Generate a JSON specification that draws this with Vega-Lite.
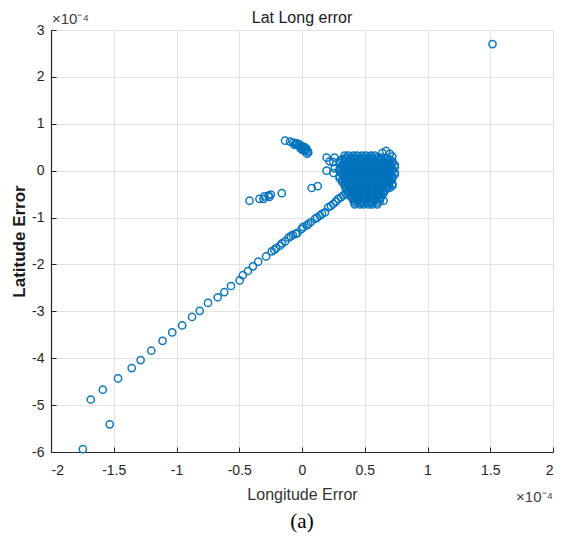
{
  "$schema": "https://vega.github.io/schema/vega-lite/v6.json",
  "autosize": "none",
  "width": 502,
  "height": 422,
  "padding": {"left": 51, "top": 30, "right": 10, "bottom": 92},
  "background": "white",
  "config": {
    "view": {"stroke": "#dcdcdc", "strokeWidth": 1},
    "font": "Liberation Sans",
    "axis": {
      "grid": true, "gridColor": "#e3e3e3", "gridWidth": 1,
      "domainColor": "#262626", "domainWidth": 1.2,
      "tickColor": "#262626", "tickSize": -5, "tickWidth": 1,
      "labelFont": "Liberation Sans", "labelFontSize": 14, "labelColor": "#262626",
      "titleFont": "Liberation Sans", "titleColor": "#262626"
    }
  },
  "datasets": {
    "pts": [
      {"x": -1.746, "y": -5.94}, {"x": -1.683, "y": -4.88}, {"x": -1.587, "y": -4.67}, {"x": -1.532, "y": -5.41},
      {"x": -1.466, "y": -4.43}, {"x": -1.357, "y": -4.21}, {"x": -1.286, "y": -4.04}, {"x": -1.201, "y": -3.84},
      {"x": -1.111, "y": -3.63}, {"x": -1.034, "y": -3.45}, {"x": -0.955, "y": -3.30}, {"x": -0.876, "y": -3.12},
      {"x": -0.815, "y": -2.99}, {"x": -0.749, "y": -2.82}, {"x": -0.672, "y": -2.70}, {"x": -0.619, "y": -2.59},
      {"x": -0.566, "y": -2.46}, {"x": -0.497, "y": -2.34}, {"x": -0.471, "y": -2.23}, {"x": -0.431, "y": -2.14},
      {"x": -0.391, "y": -2.04}, {"x": -0.349, "y": -1.94}, {"x": -0.286, "y": -1.83}, {"x": -0.241, "y": -1.72},
      {"x": -0.206, "y": -1.65}, {"x": -0.175, "y": -1.60}, {"x": -0.135, "y": -1.51}, {"x": -0.108, "y": -1.43},
      {"x": -0.074, "y": -1.37}, {"x": -0.037, "y": -1.33}, {"x": -0.003, "y": -1.24}, {"x": 0.037, "y": -1.17},
      {"x": 0.069, "y": -1.10}, {"x": 0.103, "y": -1.03}, {"x": 0.143, "y": -0.96}, {"x": 0.183, "y": -0.89},
      {"x": 0.209, "y": -0.78}, {"x": 0.249, "y": -0.71}, {"x": 0.288, "y": -0.60}, {"x": 0.328, "y": -0.53},
      {"x": 0.01, "y": -1.20}, {"x": 0.05, "y": -1.14}, {"x": 0.12, "y": -1.00}, {"x": 0.16, "y": -0.92},
      {"x": 0.23, "y": -0.75}, {"x": 0.27, "y": -0.66}, {"x": 0.31, "y": -0.57}, {"x": 0.35, "y": -0.50},
      {"x": -0.22, "y": -1.69}, {"x": -0.16, "y": -1.55}, {"x": -0.05, "y": -1.35}, {"x": -0.09, "y": -1.40},
      {"x": -0.418, "y": -0.64}, {"x": -0.339, "y": -0.60}, {"x": -0.307, "y": -0.60}, {"x": -0.30, "y": -0.55},
      {"x": -0.267, "y": -0.53}, {"x": -0.249, "y": -0.51}, {"x": -0.26, "y": -0.56}, {"x": -0.161, "y": -0.48},
      {"x": 0.077, "y": -0.37}, {"x": 0.125, "y": -0.33},
      {"x": -0.135, "y": 0.64}, {"x": -0.095, "y": 0.62}, {"x": -0.069, "y": 0.60}, {"x": -0.05, "y": 0.57},
      {"x": -0.03, "y": 0.54}, {"x": -0.01, "y": 0.51}, {"x": 0.01, "y": 0.48}, {"x": 0.03, "y": 0.44},
      {"x": 0.05, "y": 0.39}, {"x": 0.04, "y": 0.36}, {"x": -0.06, "y": 0.55}, {"x": 0.0, "y": 0.45},
      {"x": -0.04, "y": 0.58}, {"x": -0.02, "y": 0.56}, {"x": 0.0, "y": 0.52}, {"x": 0.02, "y": 0.50},
      {"x": 0.035, "y": 0.47}, {"x": 0.045, "y": 0.42}, {"x": 0.02, "y": 0.42}, {"x": -0.01, "y": 0.47},
      {"x": 1.518, "y": 2.70},
      {"x": 0.196, "y": 0.28}, {"x": 0.196, "y": 0.0}, {"x": 0.25, "y": 0.18}, {"x": 0.22, "y": 0.20},
      {"x": 0.26, "y": 0.28}, {"x": 0.26, "y": 0.05}, {"x": 0.25, "y": -0.05},
      {"x": 0.67, "y": 0.42}, {"x": 0.64, "y": 0.38}, {"x": 0.70, "y": 0.36}, {"x": 0.72, "y": 0.30},
      {"x": 0.34, "y": 0.32}, {"x": 0.37, "y": 0.32}, {"x": 0.41, "y": 0.32}, {"x": 0.44, "y": 0.32}, {"x": 0.48, "y": 0.32}, {"x": 0.51, "y": 0.32}, {"x": 0.55, "y": 0.32}, {"x": 0.58, "y": 0.32},
      {"x": 0.35, "y": 0.28}, {"x": 0.39, "y": 0.28}, {"x": 0.42, "y": 0.28}, {"x": 0.46, "y": 0.28}, {"x": 0.49, "y": 0.28}, {"x": 0.53, "y": 0.28}, {"x": 0.56, "y": 0.28}, {"x": 0.60, "y": 0.28}, {"x": 0.63, "y": 0.28},
      {"x": 0.32, "y": 0.24}, {"x": 0.35, "y": 0.24}, {"x": 0.39, "y": 0.24}, {"x": 0.42, "y": 0.24}, {"x": 0.46, "y": 0.24}, {"x": 0.49, "y": 0.24}, {"x": 0.53, "y": 0.24}, {"x": 0.56, "y": 0.24}, {"x": 0.60, "y": 0.24}, {"x": 0.63, "y": 0.24}, {"x": 0.67, "y": 0.24}, {"x": 0.70, "y": 0.24},
      {"x": 0.30, "y": 0.20}, {"x": 0.34, "y": 0.20}, {"x": 0.37, "y": 0.20}, {"x": 0.41, "y": 0.20}, {"x": 0.44, "y": 0.20}, {"x": 0.48, "y": 0.20}, {"x": 0.51, "y": 0.20}, {"x": 0.55, "y": 0.20}, {"x": 0.58, "y": 0.20}, {"x": 0.62, "y": 0.20}, {"x": 0.65, "y": 0.20}, {"x": 0.69, "y": 0.20}, {"x": 0.72, "y": 0.20},
      {"x": 0.30, "y": 0.16}, {"x": 0.34, "y": 0.16}, {"x": 0.37, "y": 0.16}, {"x": 0.41, "y": 0.16}, {"x": 0.44, "y": 0.16}, {"x": 0.48, "y": 0.16}, {"x": 0.51, "y": 0.16}, {"x": 0.55, "y": 0.16}, {"x": 0.58, "y": 0.16}, {"x": 0.62, "y": 0.16}, {"x": 0.65, "y": 0.16}, {"x": 0.69, "y": 0.16}, {"x": 0.72, "y": 0.16},
      {"x": 0.32, "y": 0.12}, {"x": 0.35, "y": 0.12}, {"x": 0.39, "y": 0.12}, {"x": 0.42, "y": 0.12}, {"x": 0.46, "y": 0.12}, {"x": 0.49, "y": 0.12}, {"x": 0.53, "y": 0.12}, {"x": 0.56, "y": 0.12}, {"x": 0.60, "y": 0.12}, {"x": 0.63, "y": 0.12}, {"x": 0.67, "y": 0.12}, {"x": 0.70, "y": 0.12}, {"x": 0.74, "y": 0.12},
      {"x": 0.32, "y": 0.08}, {"x": 0.35, "y": 0.08}, {"x": 0.39, "y": 0.08}, {"x": 0.42, "y": 0.08}, {"x": 0.46, "y": 0.08}, {"x": 0.49, "y": 0.08}, {"x": 0.53, "y": 0.08}, {"x": 0.56, "y": 0.08}, {"x": 0.60, "y": 0.08}, {"x": 0.63, "y": 0.08}, {"x": 0.67, "y": 0.08}, {"x": 0.70, "y": 0.08}, {"x": 0.74, "y": 0.08},
      {"x": 0.30, "y": 0.04}, {"x": 0.34, "y": 0.04}, {"x": 0.37, "y": 0.04}, {"x": 0.41, "y": 0.04}, {"x": 0.44, "y": 0.04}, {"x": 0.48, "y": 0.04}, {"x": 0.51, "y": 0.04}, {"x": 0.55, "y": 0.04}, {"x": 0.58, "y": 0.04}, {"x": 0.62, "y": 0.04}, {"x": 0.65, "y": 0.04}, {"x": 0.69, "y": 0.04}, {"x": 0.72, "y": 0.04},
      {"x": 0.30, "y": 0.0}, {"x": 0.34, "y": 0.0}, {"x": 0.37, "y": 0.0}, {"x": 0.41, "y": 0.0}, {"x": 0.44, "y": 0.0}, {"x": 0.48, "y": 0.0}, {"x": 0.51, "y": 0.0}, {"x": 0.55, "y": 0.0}, {"x": 0.58, "y": 0.0}, {"x": 0.62, "y": 0.0}, {"x": 0.65, "y": 0.0}, {"x": 0.69, "y": 0.0}, {"x": 0.72, "y": 0.0},
      {"x": 0.32, "y": -0.04}, {"x": 0.35, "y": -0.04}, {"x": 0.39, "y": -0.04}, {"x": 0.42, "y": -0.04}, {"x": 0.46, "y": -0.04}, {"x": 0.49, "y": -0.04}, {"x": 0.53, "y": -0.04}, {"x": 0.56, "y": -0.04}, {"x": 0.60, "y": -0.04}, {"x": 0.63, "y": -0.04}, {"x": 0.67, "y": -0.04}, {"x": 0.70, "y": -0.04}, {"x": 0.74, "y": -0.04},
      {"x": 0.32, "y": -0.08}, {"x": 0.35, "y": -0.08}, {"x": 0.39, "y": -0.08}, {"x": 0.42, "y": -0.08}, {"x": 0.46, "y": -0.08}, {"x": 0.49, "y": -0.08}, {"x": 0.53, "y": -0.08}, {"x": 0.56, "y": -0.08}, {"x": 0.60, "y": -0.08}, {"x": 0.63, "y": -0.08}, {"x": 0.67, "y": -0.08}, {"x": 0.70, "y": -0.08}, {"x": 0.74, "y": -0.08},
      {"x": 0.30, "y": -0.12}, {"x": 0.34, "y": -0.12}, {"x": 0.37, "y": -0.12}, {"x": 0.41, "y": -0.12}, {"x": 0.44, "y": -0.12}, {"x": 0.48, "y": -0.12}, {"x": 0.51, "y": -0.12}, {"x": 0.55, "y": -0.12}, {"x": 0.58, "y": -0.12}, {"x": 0.62, "y": -0.12}, {"x": 0.65, "y": -0.12}, {"x": 0.69, "y": -0.12}, {"x": 0.72, "y": -0.12},
      {"x": 0.30, "y": -0.16}, {"x": 0.34, "y": -0.16}, {"x": 0.37, "y": -0.16}, {"x": 0.41, "y": -0.16}, {"x": 0.44, "y": -0.16}, {"x": 0.48, "y": -0.16}, {"x": 0.51, "y": -0.16}, {"x": 0.55, "y": -0.16}, {"x": 0.58, "y": -0.16}, {"x": 0.62, "y": -0.16}, {"x": 0.65, "y": -0.16}, {"x": 0.69, "y": -0.16}, {"x": 0.72, "y": -0.16},
      {"x": 0.32, "y": -0.20}, {"x": 0.35, "y": -0.20}, {"x": 0.39, "y": -0.20}, {"x": 0.42, "y": -0.20}, {"x": 0.46, "y": -0.20}, {"x": 0.49, "y": -0.20}, {"x": 0.53, "y": -0.20}, {"x": 0.56, "y": -0.20}, {"x": 0.60, "y": -0.20}, {"x": 0.63, "y": -0.20}, {"x": 0.67, "y": -0.20}, {"x": 0.70, "y": -0.20},
      {"x": 0.32, "y": -0.24}, {"x": 0.35, "y": -0.24}, {"x": 0.39, "y": -0.24}, {"x": 0.42, "y": -0.24}, {"x": 0.46, "y": -0.24}, {"x": 0.49, "y": -0.24}, {"x": 0.53, "y": -0.24}, {"x": 0.56, "y": -0.24}, {"x": 0.60, "y": -0.24}, {"x": 0.63, "y": -0.24}, {"x": 0.67, "y": -0.24}, {"x": 0.70, "y": -0.24},
      {"x": 0.34, "y": -0.28}, {"x": 0.37, "y": -0.28}, {"x": 0.41, "y": -0.28}, {"x": 0.44, "y": -0.28}, {"x": 0.48, "y": -0.28}, {"x": 0.51, "y": -0.28}, {"x": 0.55, "y": -0.28}, {"x": 0.58, "y": -0.28}, {"x": 0.62, "y": -0.28}, {"x": 0.65, "y": -0.28}, {"x": 0.69, "y": -0.28}, {"x": 0.72, "y": -0.28},
      {"x": 0.34, "y": -0.32}, {"x": 0.37, "y": -0.32}, {"x": 0.41, "y": -0.32}, {"x": 0.44, "y": -0.32}, {"x": 0.48, "y": -0.32}, {"x": 0.51, "y": -0.32}, {"x": 0.55, "y": -0.32}, {"x": 0.58, "y": -0.32}, {"x": 0.62, "y": -0.32}, {"x": 0.65, "y": -0.32}, {"x": 0.69, "y": -0.32}, {"x": 0.72, "y": -0.32},
      {"x": 0.35, "y": -0.36}, {"x": 0.39, "y": -0.36}, {"x": 0.42, "y": -0.36}, {"x": 0.46, "y": -0.36}, {"x": 0.49, "y": -0.36}, {"x": 0.53, "y": -0.36}, {"x": 0.56, "y": -0.36}, {"x": 0.60, "y": -0.36}, {"x": 0.63, "y": -0.36}, {"x": 0.67, "y": -0.36}, {"x": 0.70, "y": -0.36},
      {"x": 0.35, "y": -0.40}, {"x": 0.39, "y": -0.40}, {"x": 0.42, "y": -0.40}, {"x": 0.46, "y": -0.40}, {"x": 0.49, "y": -0.40}, {"x": 0.53, "y": -0.40}, {"x": 0.56, "y": -0.40}, {"x": 0.60, "y": -0.40}, {"x": 0.63, "y": -0.40}, {"x": 0.67, "y": -0.40},
      {"x": 0.37, "y": -0.44}, {"x": 0.41, "y": -0.44}, {"x": 0.44, "y": -0.44}, {"x": 0.48, "y": -0.44}, {"x": 0.51, "y": -0.44}, {"x": 0.55, "y": -0.44}, {"x": 0.58, "y": -0.44}, {"x": 0.62, "y": -0.44}, {"x": 0.65, "y": -0.44},
      {"x": 0.37, "y": -0.48}, {"x": 0.41, "y": -0.48}, {"x": 0.44, "y": -0.48}, {"x": 0.48, "y": -0.48}, {"x": 0.51, "y": -0.48}, {"x": 0.55, "y": -0.48}, {"x": 0.58, "y": -0.48}, {"x": 0.62, "y": -0.48}, {"x": 0.65, "y": -0.48},
      {"x": 0.39, "y": -0.52}, {"x": 0.42, "y": -0.52}, {"x": 0.46, "y": -0.52}, {"x": 0.49, "y": -0.52}, {"x": 0.53, "y": -0.52}, {"x": 0.56, "y": -0.52}, {"x": 0.60, "y": -0.52}, {"x": 0.63, "y": -0.52},
      {"x": 0.39, "y": -0.56}, {"x": 0.42, "y": -0.56}, {"x": 0.46, "y": -0.56}, {"x": 0.49, "y": -0.56}, {"x": 0.53, "y": -0.56}, {"x": 0.56, "y": -0.56}, {"x": 0.60, "y": -0.56}, {"x": 0.63, "y": -0.56},
      {"x": 0.41, "y": -0.60}, {"x": 0.44, "y": -0.60}, {"x": 0.48, "y": -0.60}, {"x": 0.51, "y": -0.60}, {"x": 0.55, "y": -0.60}, {"x": 0.58, "y": -0.60}, {"x": 0.62, "y": -0.60},
      {"x": 0.41, "y": -0.64}, {"x": 0.44, "y": -0.64}, {"x": 0.48, "y": -0.64}, {"x": 0.51, "y": -0.64}, {"x": 0.55, "y": -0.64}, {"x": 0.58, "y": -0.64}, {"x": 0.62, "y": -0.64}, {"x": 0.65, "y": -0.64},
      {"x": 0.42, "y": -0.68}, {"x": 0.46, "y": -0.68}, {"x": 0.49, "y": -0.68}, {"x": 0.53, "y": -0.68}, {"x": 0.56, "y": -0.68}, {"x": 0.60, "y": -0.68},
      {"x": 0.42, "y": -0.72}, {"x": 0.46, "y": -0.72}, {"x": 0.49, "y": -0.72}, {"x": 0.53, "y": -0.72}, {"x": 0.56, "y": -0.72}, {"x": 0.60, "y": -0.72}
    ],
    "notes": [
      {"x": 0, "y": 3, "label": "Lat Long error", "kind": "title"},
      {"x": -2, "y": 3, "label": "×10⁻⁴", "kind": "ytop"},
      {"x": 2, "y": -6, "label": "×10⁻⁴", "kind": "xexp"},
      {"x": 0, "y": -6, "label": "(a)", "kind": "caption"}
    ]
  },
  "layer": [
    {
      "data": {"name": "pts"},
      "mark": {"type": "point", "shape": "circle", "filled": false, "color": "#0072BD", "size": 52, "strokeWidth": 1.5, "opacity": 0.95},
      "encoding": {
        "x": {"field": "x", "type": "quantitative",
          "scale": {"domain": [-2, 2], "nice": false, "zero": false},
          "axis": {"title": "Longitude Error", "values": [-2, -1.5, -1, -0.5, 0, 0.5, 1, 1.5, 2],
            "labelExpr": "'' + datum.value", "labelPadding": 16, "titleFontSize": 16, "titleFontWeight": "normal", "titleColor": "#333333", "titlePadding": 9}},
        "y": {"field": "y", "type": "quantitative",
          "scale": {"domain": [-6, 3], "nice": false, "zero": false},
          "axis": {"title": "Latitude Error", "values": [-6, -5, -4, -3, -2, -1, 0, 1, 2, 3],
            "labelExpr": "'' + datum.value", "labelPadding": 12, "titleFontSize": 17, "titleFontWeight": "bold", "titleColor": "#1a1a1a", "titlePadding": 3}}
      }
    },
    {
      "data": {"name": "notes"},
      "transform": [{"filter": "datum.kind == 'title'"}],
      "mark": {"type": "text", "align": "center", "baseline": "alphabetic", "dy": -7, "fontSize": 16, "color": "#1a1a1a", "font": "Liberation Sans"},
      "encoding": {"x": {"field": "x", "type": "quantitative"}, "y": {"field": "y", "type": "quantitative"}, "text": {"field": "label"}}
    },
    {
      "data": {"name": "notes"},
      "transform": [{"filter": "datum.kind == 'ytop'"}],
      "mark": {"type": "text", "align": "left", "baseline": "alphabetic", "dy": -6, "dx": 1, "fontSize": 15, "color": "#404040", "font": "Liberation Sans"},
      "encoding": {"x": {"field": "x", "type": "quantitative"}, "y": {"field": "y", "type": "quantitative"}, "text": {"field": "label"}}
    },
    {
      "data": {"name": "notes"},
      "transform": [{"filter": "datum.kind == 'xexp'"}],
      "mark": {"type": "text", "align": "right", "baseline": "top", "dy": 38, "fontSize": 15, "color": "#404040", "font": "Liberation Sans"},
      "encoding": {"x": {"field": "x", "type": "quantitative"}, "y": {"field": "y", "type": "quantitative"}, "text": {"field": "label"}}
    },
    {
      "data": {"name": "notes"},
      "transform": [{"filter": "datum.kind == 'caption'"}],
      "mark": {"type": "text", "align": "center", "baseline": "top", "dy": 59, "fontSize": 21, "color": "#000000", "font": "Liberation Serif"},
      "encoding": {"x": {"field": "x", "type": "quantitative"}, "y": {"field": "y", "type": "quantitative"}, "text": {"field": "label"}}
    }
  ]
}
